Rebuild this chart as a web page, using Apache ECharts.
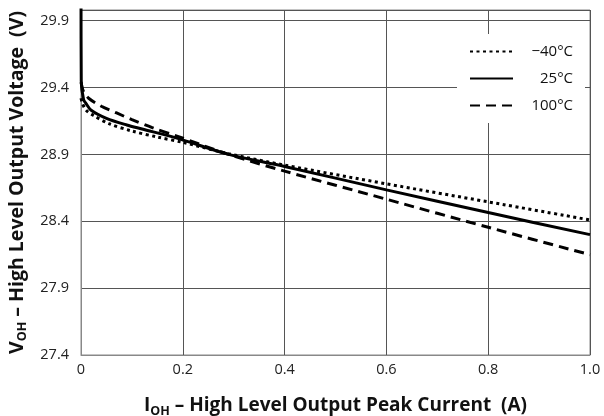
<!DOCTYPE html>
<html>
<head>
<meta charset="utf-8">
<script src="https://cdn.jsdelivr.net/npm/echarts@6/dist/echarts.min.js"></script>
<style>html,body{margin:0;padding:0;background:#fff}#c{width:604px;height:416px}</style>
</head>
<body>
<div id="c"></div>
<script>
var xTicks = ['0', '0.2', '0.4', '0.6', '0.8', '1.0'];
var yTicks = ['27.4', '27.9', '28.4', '28.9', '29.4', '29.9'];
var seriesNames = ['\u221240\u00b0C', '25\u00b0C', '100\u00b0C'];

var currentM40 = [0, 0.003, 0.01, 0.025, 0.055, 0.1, 0.15, 0.2, 0.29, 0.4, 0.6, 0.8, 1.0];
var voltageM40 = [29.32, 29.28, 29.23, 29.19, 29.13, 29.075, 29.03, 28.99, 28.905, 28.82, 28.68, 28.545, 28.41];

var current25 = [0, 0.0005, 0.005, 0.01, 0.02, 0.05, 0.09, 0.12, 0.19, 0.29, 0.4, 0.6, 0.8, 1.0];
var voltage25 = [30.2, 29.45, 29.31, 29.28, 29.23, 29.17, 29.12, 29.09, 29.02, 28.9, 28.81, 28.635, 28.465, 28.30];

var current100 = [0, 0.005, 0.015, 0.04, 0.07, 0.1, 0.14, 0.19, 0.29, 0.4, 0.6, 0.8, 1.0];
var voltage100 = [29.44, 29.37, 29.32, 29.26, 29.21, 29.16, 29.10, 29.035, 28.9, 28.775, 28.565, 28.355, 28.15];

function pairs(xs, ys) { return xs.map(function (x, i) { return [x, ys[i]]; }); }

var FONT = '"Open Sans", "Noto Sans", sans-serif';
var chart = echarts.init(document.getElementById('c'), null, {renderer: 'canvas'});
chart.setOption({
  animation: false,
  backgroundColor: '#fff',
  textStyle: {fontFamily: FONT},
  grid: {left: 81, right: 14, top: 10, bottom: 61, show: true, borderColor: '#888', borderWidth: 1,
         containLabel: false, outerBoundsMode: 'none'},
  legend: {
    orient: 'vertical',
    left: 457, top: 34,
    padding: [10, 12, 10, 12],
    backgroundColor: '#fff',
    itemWidth: 43, itemHeight: 14, itemGap: 12,
    data: seriesNames,
    itemStyle: {color: 'rgba(0,0,0,0)', borderWidth: 0, opacity: 0},
    formatter: function (n) { return '{t|' + n + '}'; },
    textStyle: {rich: {t: {width: 55, align: 'right', fontSize: 15, color: '#111', fontFamily: FONT}}}
  },
  xAxis: {
    type: 'value', min: 0, max: 1, interval: 0.2,
    axisLine: {show: true, lineStyle: {color: '#888', width: 1}},
    axisTick: {show: false},
    splitLine: {show: true, lineStyle: {color: '#555', width: 1}},
    axisLabel: {
      color: '#222', fontSize: 14.5, margin: 7, fontFamily: FONT,
      formatter: function (v) { return xTicks[Math.round(v / 0.2)]; }
    },
    name: '{m|I}{s|OH}{m| \u2013 High Level Output Peak Current  (A)}',
    nameLocation: 'middle', nameGap: 39,
    nameTextStyle: {rich: {
      m: {fontSize: 19, fontWeight: 'bold', color: '#111', fontFamily: FONT, lineHeight: 24},
      s: {fontSize: 12.5, fontWeight: 'bold', color: '#111', fontFamily: FONT, lineHeight: 14, verticalAlign: 'bottom'}
    }}
  },
  yAxis: {
    type: 'value', min: 27.4, max: 29.98, interval: 0.5,
    axisLine: {show: true, lineStyle: {color: '#888', width: 1}},
    axisTick: {show: false},
    splitLine: {show: true, lineStyle: {color: '#555', width: 1}},
    axisLabel: {
      color: '#222', fontSize: 14.5, margin: 12, fontFamily: FONT, showMaxLabel: false,
      formatter: function (v) { var i = Math.round((v - 27.4) / 0.5); return (Math.abs(v - 27.4 - i * 0.5) < 1e-6 && yTicks[i]) ? yTicks[i] : ''; }
    },
    name: '{m|V}{s|OH}{m| \u2013 High Level Output Voltage  (V)}',
    nameLocation: 'middle', nameGap: 51,
    nameTextStyle: {rich: {
      m: {fontSize: 19.5, fontWeight: 'bold', color: '#111', fontFamily: FONT, lineHeight: 24},
      s: {fontSize: 12.5, fontWeight: 'bold', color: '#111', fontFamily: FONT, lineHeight: 14, verticalAlign: 'bottom'}
    }}
  },
  series: [
    {name: seriesNames[0], type: 'line', showSymbol: false, symbol: 'none', smooth: 0.3, clip: true,
     itemStyle: {color: '#000'},
     data: pairs(currentM40, voltageM40), lineStyle: {color: '#000', width: 3, type: [3, 3.5]}, z: 3},
    {name: seriesNames[1], type: 'line', showSymbol: false, symbol: 'none', smooth: 0.3, clip: true,
     itemStyle: {color: '#000'},
     data: pairs(current25, voltage25), lineStyle: {color: '#000', width: 3, type: 'solid'}, z: 4},
    {name: seriesNames[2], type: 'line', showSymbol: false, symbol: 'none', smooth: 0.3, clip: true,
     itemStyle: {color: '#000'},
     data: pairs(current100, voltage100), lineStyle: {color: '#000', width: 3, type: [10, 6]}, z: 3}
  ]
});
</script>
</body>
</html>
